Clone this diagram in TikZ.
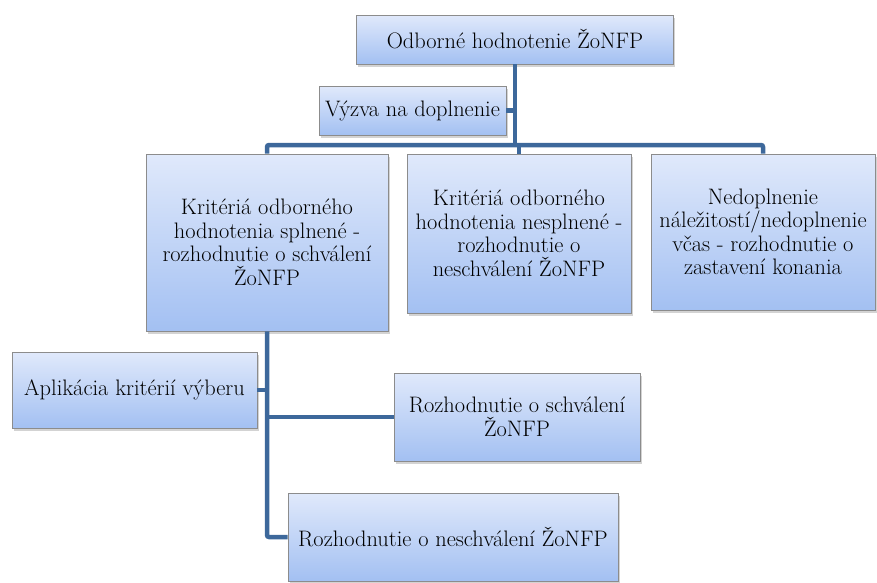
\documentclass[tikz,border=0pt]{standalone}
\usepackage{fontspec}
\usetikzlibrary{shadows}
\definecolor{boxtop}{RGB}{224,233,251}
\definecolor{boxbot}{RGB}{163,192,242}
\definecolor{boxline}{RGB}{140,140,140}
\definecolor{conncol}{RGB}{61,104,155}
\tikzset{
  card/.style={draw=boxline, line width=0.8pt, top color=boxtop, bottom color=boxbot,
    drop shadow={opacity=0.35, shadow xshift=1.5pt, shadow yshift=-2.5pt},
    align=center, inner sep=2pt,
    font=\rmfamily\fontsize{22.4}{23.5}\selectfont, text=black},
  conn/.style={draw=conncol, line width=4.5pt, rounded corners=2pt}
}
\begin{document}
\begin{tikzpicture}[x=1pt,y=-1pt]
\useasboundingbox (0,0) rectangle (877,582);
\coordinate (bar) at (516,145);
\node[card, minimum width=317pt, minimum height=49pt] (top) at (515,39.5) {Odborné hodnotenie ŽoNFP};
\node[card, minimum width=187pt, minimum height=49pt] (vyzva) at (412.5,110.5) {Výzva na doplnenie};
\node[card, minimum width=242pt, minimum height=177pt] (k1) at (267,242.5) {Kritériá odborného\\hodnotenia splnené -\\rozhodnutie o schválení\\ŽoNFP};
\node[card, minimum width=224pt, minimum height=159pt] (k2) at (519,233.5) {Kritériá odborného\\hodnotenia nesplnené -\\rozhodnutie o\\neschválení ŽoNFP};
\node[card, minimum width=224pt, minimum height=156pt] (k3) at (763,232) {Nedoplnenie\\náležitostí/nedoplnenie\\včas - rozhodnutie o\\zastavení konania};
\node[card, minimum width=245pt, minimum height=76pt] (apl) at (134.5,390) {Aplikácia kritérií výberu};
\node[card, minimum width=246pt, minimum height=88pt] (rs) at (517,417) {Rozhodnutie o schválení\\ŽoNFP};
\node[card, minimum width=330pt, minimum height=88pt] (rn) at (453,537) {Rozhodnutie o neschválení ŽoNFP};
\draw[conn] (top.south) -- (top.south|-bar);
\draw[conn] (vyzva.east) -- (vyzva.east-|top.south);
\draw[conn] (k1.north) |- (bar) -| (k3.north);
\draw[conn] (k2.north) -- (k2.north|-bar);
\draw[conn] (k1.south) |- (rn.west);
\draw[conn] (apl.east) -- (apl.east-|k1.south);
\draw[conn] (k1.south|-rs.west) -- (rs.west);
\end{tikzpicture}
\end{document}
